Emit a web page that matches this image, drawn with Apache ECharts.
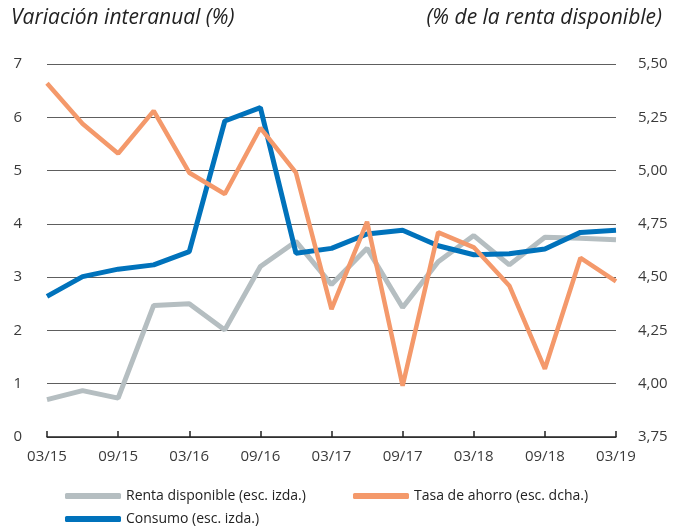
<!DOCTYPE html>
<html>
<head>
<meta charset="utf-8">
<script src="https://cdn.jsdelivr.net/npm/echarts@6/dist/echarts.min.js"></script>
<style>
  html, body { margin: 0; padding: 0; background: #fff; }
  #chart { width: 683px; height: 526px; }
</style>
</head>
<body>
<div id="chart"></div>
<script>
// quarters 03/15 .. 03/19
const quarters = ['03/15', '06/15', '09/15', '12/15', '03/16', '06/16', '09/16', '12/16',
  '03/17', '06/17', '09/17', '12/17', '03/18', '06/18', '09/18', '12/18', '03/19'];

// variación interanual (%), left scale
const rentaDisponible = [0.70, 0.87, 0.73, 2.47, 2.50, 2.01, 3.20, 3.67,
  2.86, 3.54, 2.43, 3.29, 3.78, 3.23, 3.75, 3.73, 3.70];
const consumo = [2.64, 3.01, 3.15, 3.23, 3.48, 5.93, 6.18, 3.45,
  3.54, 3.81, 3.88, 3.59, 3.42, 3.44, 3.53, 3.84, 3.88];

// % de la renta disponible, right scale
const tasaAhorro = [5.41, 5.22, 5.08, 5.28, 4.99, 4.89, 5.20, 4.99,
  4.35, 4.76, 3.99, 4.71, 4.64, 4.46, 4.07, 4.59, 4.48];

const seriesNames = ['Renta disponible (esc. izda.)', 'Consumo (esc. izda.)', 'Tasa de ahorro (esc. dcha.)'];
const seriesColors = ['#b5bec1', '#0072bb', '#f4996b'];

const font = '"Open Sans", "Noto Sans", sans-serif';
const textColor = '#3a3a3a';

let chart = echarts.init(document.getElementById('chart'), null, { renderer: 'canvas' });

function legendFor(name, left, top) {
  return {
    data: [name],
    left: left,
    top: top,
    icon: 'roundRect',
    itemWidth: 56,
    itemHeight: 6,
    itemGap: 10,
    selectedMode: false,
    textStyle: { fontFamily: font, fontSize: 14, color: '#222' },
  };
}

chart.setOption({
  animation: false,
  title: [
    {
      text: 'Variación interanual (%)',
      left: 6,
      top: 3,
      textStyle: { fontFamily: font, fontStyle: 'italic', fontWeight: 'normal', fontSize: 21, color: '#222' },
    },
    {
      text: '(% de la renta disponible)',
      right: 16,
      top: 3,
      textStyle: { fontFamily: font, fontStyle: 'italic', fontWeight: 'normal', fontSize: 21, color: '#222' },
    },
  ],
  legend: [
    legendFor(seriesNames[0], 60, 484),
    legendFor(seriesNames[2], 348, 484),
    legendFor(seriesNames[1], 60, 507),
  ],
  grid: {
    left: 47,
    right: 67,
    top: 64,
    bottom: 89,
  },
  xAxis: {
    type: 'category',
    data: quarters,
    boundaryGap: false,
    axisLine: { lineStyle: { color: '#222', width: 1.5 } },
    axisTick: { inside: true, length: 6, interval: 1, lineStyle: { color: '#222', width: 1.5 } },
    axisLabel: { interval: 1, margin: 12, fontFamily: font, fontSize: 15, color: textColor },
    splitLine: { show: false },
  },
  yAxis: [
    {
      type: 'value',
      min: 0,
      max: 7,
      interval: 1,
      axisLine: { show: false },
      axisTick: { show: false },
      axisLabel: { margin: 25, fontFamily: font, fontSize: 15, color: textColor },
      splitLine: { lineStyle: { color: '#5e5e5e', width: 1.2 } },
    },
    {
      type: 'value',
      min: 3.75,
      max: 5.5,
      interval: 0.25,
      position: 'right',
      axisLine: { show: false },
      axisTick: { show: false },
      axisLabel: {
        margin: 22,
        fontFamily: font,
        fontSize: 15,
        color: textColor,
        formatter: (v) => v.toFixed(2).replace('.', ','),
      },
      splitLine: { show: false },
    },
  ],
  series: [
    {
      name: seriesNames[0],
      type: 'line',
      yAxisIndex: 0,
      data: rentaDisponible,
      showSymbol: false,
      color: seriesColors[0],
      lineStyle: { width: 5, color: seriesColors[0] },
    },
    {
      name: seriesNames[1],
      type: 'line',
      yAxisIndex: 0,
      data: consumo,
      showSymbol: false,
      color: seriesColors[1],
      lineStyle: { width: 5, color: seriesColors[1] },
    },
    {
      name: seriesNames[2],
      type: 'line',
      yAxisIndex: 1,
      data: tasaAhorro,
      showSymbol: false,
      color: seriesColors[2],
      lineStyle: { width: 4.5, color: seriesColors[2] },
    },
  ],
});
</script>
</body>
</html>
